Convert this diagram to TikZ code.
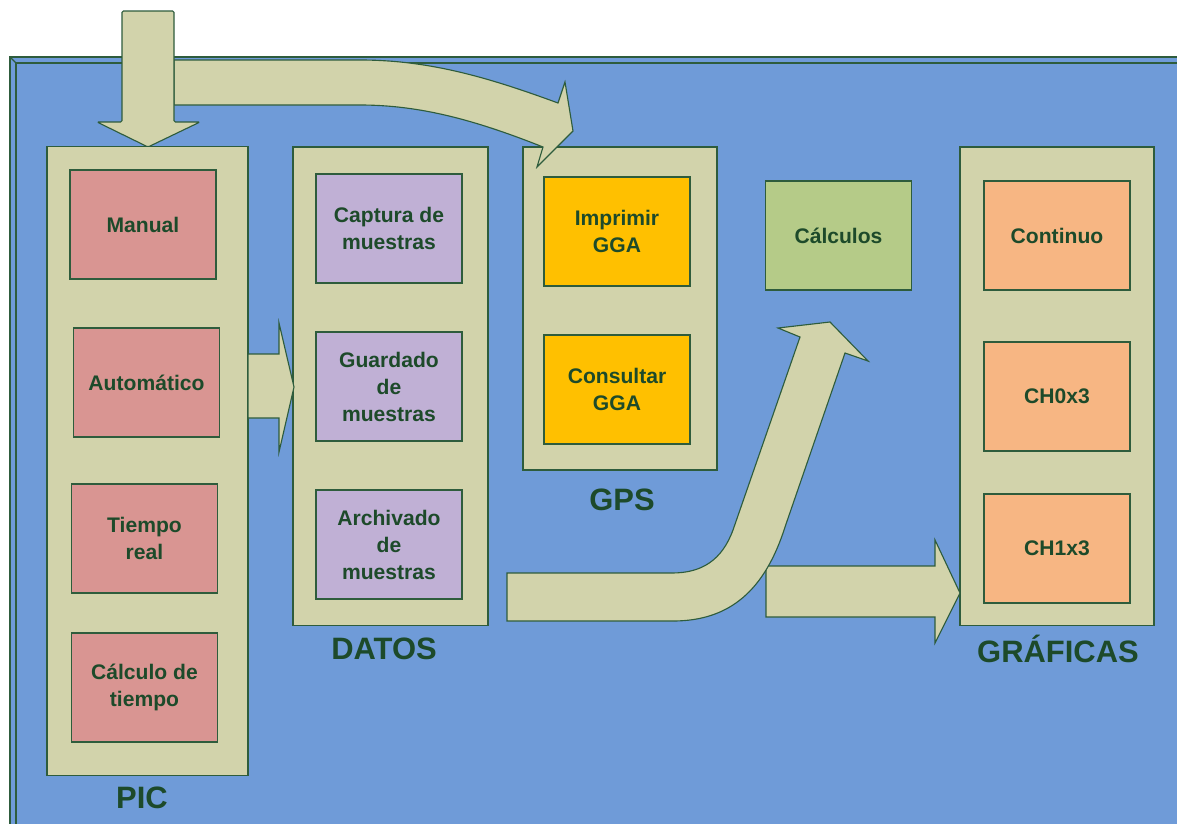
\documentclass[tikz,border=0pt]{standalone}
\usepackage{fontspec}
\setmainfont{Liberation Sans}
\definecolor{panelblue}{HTML}{6F9BD8}
\definecolor{khaki}{HTML}{D2D3AB}
\definecolor{edge}{HTML}{2E5C3C}
\definecolor{ink}{HTML}{1D4A2A}
\definecolor{picred}{HTML}{D99592}
\definecolor{datlila}{HTML}{C0B0D5}
\definecolor{gpsgold}{HTML}{FFC000}
\definecolor{calcgreen}{HTML}{B5CB88}
\definecolor{grafpeach}{HTML}{F7B683}

\begin{document}
\begin{tikzpicture}[
    x=0.025cm, y=-0.025cm,
    line width=0.8pt,
    block/.style={rectangle, draw=edge, fill=khaki, inner sep=0pt},
    item/.style={rectangle, draw=edge, minimum width=3.65cm, minimum height=2.725cm, align=center, text=ink, inner sep=2pt, font=\fontsize{15}{19.2}\selectfont\bfseries},
    title/.style={text=ink, font=\fontsize{22}{26}\selectfont\bfseries},
    bigarrow/.style={draw=edge, fill=khaki, line join=miter}
]
\clip (0,0) rectangle (1177,823);

% Background
\fill[white] (0,0) rectangle (1177,823);
\draw[edge, fill=panelblue] (10,57) rectangle (1200,840);
\draw[edge] (16,63) -- (1200,63);
\draw[edge] (16,63) -- (16,840);
\draw[edge] (10,57) -- (16,63);

% Blocks
\node[block, minimum width=5.025cm, minimum height=15.7cm] (pic) at (147.5,461) {};
\node[block, minimum width=4.875cm, minimum height=11.95cm] (datos) at (390.5,386) {};
\node[block, minimum width=4.85cm, minimum height=8.075cm] (gps) at (620,308.5) {};
\node[block, minimum width=4.85cm, minimum height=11.95cm] (graficas) at (1057,386) {};

% Arrows
\draw[bigarrow] (174,60) -- (360,60) .. controls (430,60) and (490,78) .. (558,103)
    -- (565,82) -- (573,131) -- (537,167) -- (543,147)
    .. controls (475,120) and (420,105) .. (360,105) -- (174,105) -- cycle;
\draw[bigarrow, rounded corners=1pt] (122,11) -- (122,122) -- (97,122) -- (148,147)
    -- (200,122) -- (174,122) -- (174,11) -- cycle;
\draw[bigarrow] (248,354) -- (279,354) -- (279,323) -- (294,387) -- (279,452)
    -- (279,418) -- (248,418) -- cycle;
\draw[bigarrow] (766,566) -- (935,566) -- (935,540) -- (960,593) -- (935,643)
    -- (935,617) -- (766,617) -- cycle;
\draw[bigarrow] (507,573) -- (672,573) .. controls (702,573) and (722,560) .. (733,530)
    -- (800,337) -- (778,328) -- (830,322) -- (868,361) -- (845,353) -- (785,527)
    .. controls (765,590) and (730,621) .. (673,621) -- (507,621) -- cycle;

% PIC
\node[item, fill=picred] (manual) at (143,224.5) {Manual};
\node[item, fill=picred] (auto) at (146.5,382.5) {Automático};
\node[item, fill=picred] (tiempo) at (144.5,538.5) {Tiempo\\real};
\node[item, fill=picred] (calctiempo) at (144.5,687.5) {Cálculo de\\tiempo};

% DATOS
\node[item, fill=datlila] (captura) at (389,228.5) {Captura de\\muestras};
\node[item, fill=datlila] (guardado) at (389,386.5) {Guardado\\de\\muestras};
\node[item, fill=datlila] (archivado) at (389,544.5) {Archivado\\de\\muestras};

% GPS
\node[item, fill=gpsgold] (imprimir) at (617,231.5) {Imprimir\\GGA};
\node[item, fill=gpsgold] (consultar) at (617,389.5) {Consultar\\GGA};

% Calculos
\node[item, fill=calcgreen] (calculos) at (838.5,235.5) {Cálculos};

% GRAFICAS
\node[item, fill=grafpeach] (continuo) at (1057,235.5) {Continuo};
\node[item, fill=grafpeach] (ch0) at (1057,396.5) {CH0x3};
\node[item, fill=grafpeach] (ch1) at (1057,548.5) {CH1x3};

% Labels
\node[title] (piclabel) at (142,798) {PIC};
\node[title] (datoslabel) at (384,649) {DATOS};
\node[title] (gpslabel) at (622,500) {GPS};
\node[title] (graficaslabel) at (1058,649) {GRÁFICAS};

\end{tikzpicture}
\end{document}
